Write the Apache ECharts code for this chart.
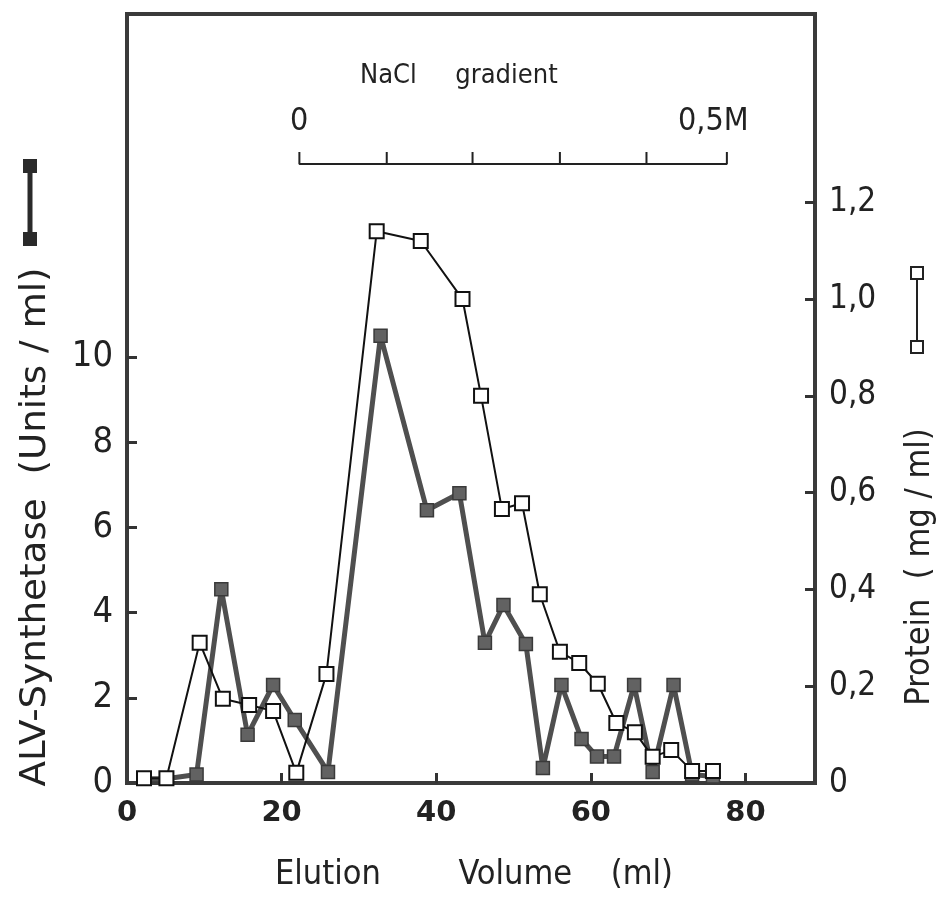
<!DOCTYPE html>
<html><head><meta charset="utf-8">
<script src="https://cdn.jsdelivr.net/npm/echarts@6/dist/echarts.min.js"></script>
<style>html,body{margin:0;padding:0;background:#fff}#c{width:944px;height:899px}</style>
</head><body><div id="c"></div>
<script>
// Elution volume (ml) and values
const proteinX = [2.2, 5.1, 9.4, 12.4, 15.8, 18.9, 21.9, 25.8, 32.3, 38.0, 43.4, 45.8, 48.5, 51.1, 53.4, 56.0, 58.5, 60.9, 63.3, 65.7, 68.0, 70.4, 73.1, 75.8];
const proteinY = [0.01, 0.01, 0.29, 0.174, 0.161, 0.149, 0.021, 0.225, 1.14, 1.12, 1.0, 0.80, 0.566, 0.578, 0.39, 0.271, 0.248, 0.205, 0.124, 0.105, 0.054, 0.068, 0.025, 0.025];
const alvX = [2.2, 5.1, 9.0, 12.2, 15.6, 18.9, 21.7, 26.0, 32.8, 38.8, 43.0, 46.3, 48.7, 51.6, 53.8, 56.2, 58.8, 60.8, 63.0, 65.6, 68.0, 70.7, 73.1, 75.8];
const alvY = [0.1, 0.1, 0.2, 4.55, 1.13, 2.3, 1.48, 0.26, 10.5, 6.4, 6.8, 3.29, 4.18, 3.26, 0.35, 2.3, 1.03, 0.62, 0.62, 2.3, 0.26, 2.3, 0.2, 0.15];
// NaCl gradient bar (x positions of ticks, in ml) and its level on left axis
const gradientTicks = [22.3, 33.6, 44.7, 56.0, 67.2, 77.6];
const gradientLevel = 14.53, gradientTickTop = 14.81;
const xTicks = [0, 20, 40, 60, 80];
const leftTicks = [0, 2, 4, 6, 8, 10];
const rightTicks = [0, 0.2, 0.4, 0.6, 0.8, 1.0, 1.2];

const FONT = "'DejaVu Sans Condensed','Liberation Sans Narrow','DejaVu Sans',sans-serif";
const gradPath = [];
gradientTicks.forEach((x) => {
  gradPath.push([x, gradientLevel], [x, gradientTickTop], [x, gradientLevel]);
});

const chart = echarts.init(document.getElementById('c'));
chart.setOption({
  animation: false,
  grid: {left: 127, right: 129, top: 14, bottom: 116, show: true, borderWidth: 4, borderColor: '#3a3a3a', backgroundColor: 'transparent'},
  xAxis: {
    type: 'value', min: 0, max: 89,
    axisLine: {show: false}, splitLine: {show: false},
    axisTick: {show: true, inside: true, length: 10, lineStyle: {color: '#333', width: 3}, customValues: xTicks.slice(1)},
    axisLabel: {customValues: xTicks, margin: 16, fontFamily: "'DejaVu Sans',sans-serif", fontWeight: 'bold', fontSize: 29, color: '#222'}
  },
  yAxis: [{
    type: 'value', min: 0, max: 18.05, position: 'left',
    axisLine: {show: false}, splitLine: {show: false},
    axisTick: {show: true, inside: true, length: 10, lineStyle: {color: '#333', width: 3}, customValues: leftTicks.slice(1)},
    axisLabel: {customValues: leftTicks, margin: 14, fontFamily: FONT, fontSize: 36, color: '#222'}
  }, {
    type: 'value', min: 0, max: 1.589, position: 'right',
    axisLine: {show: false}, splitLine: {show: false},
    axisTick: {show: true, inside: true, length: 10, lineStyle: {color: '#333', width: 3}, customValues: rightTicks.slice(1)},
    axisLabel: {customValues: rightTicks, margin: 14, fontFamily: FONT, fontSize: 33, color: '#222',
      formatter: v => v === 0 ? '0' : v.toFixed(1).replace('.', ',')}
  }],
  series: [{
    type: 'line', yAxisIndex: 0, data: alvX.map((x, i) => [x, alvY[i]]),
    symbol: 'rect', symbolSize: 13, showAllSymbol: true,
    lineStyle: {color: '#4f4f4f', width: 5},
    itemStyle: {color: '#626262', borderColor: '#3a3a3a', borderWidth: 1.5}, z: 2
  }, {
    type: 'line', yAxisIndex: 1, data: proteinX.map((x, i) => [x, proteinY[i]]),
    symbol: 'rect', symbolSize: 14, showAllSymbol: true,
    lineStyle: {color: '#111', width: 2},
    itemStyle: {color: '#fff', borderColor: '#111', borderWidth: 2}, z: 3
  }, {
    type: 'line', yAxisIndex: 0, data: gradPath, symbol: 'none',
    lineStyle: {color: '#222', width: 2}, z: 1
  }],
  graphic: [
    {type: 'text', left: 360, top: 62, style: {text: 'NaCl     gradient', font: "27px " + FONT, fill: '#222'}},
    {type: 'text', left: 290, top: 106, style: {text: '0', font: "32px " + FONT, fill: '#222'}},
    {type: 'text', left: 678, top: 106, style: {text: '0,5M', font: "32px " + FONT, fill: '#222'}},
    // axis titles
    {type: 'text', x: 36, y: 527, rotation: Math.PI / 2, scaleX: 1.15,
      style: {text: 'ALV-Synthetase  (Units / ml)', font: "36px " + FONT, fill: '#222', align: 'center', verticalAlign: 'middle'}},
    {type: 'text', x: 920, y: 567, rotation: Math.PI / 2,
      style: {text: 'Protein  ( mg / ml)', font: "34px " + FONT, fill: '#222', align: 'center', verticalAlign: 'middle'}},
    {type: 'text', left: 275, top: 858,
      style: {text: 'Elution        Volume    (ml)', font: "34px " + FONT, fill: '#222'}},
    // left legend key (filled squares)
    {type: 'line', shape: {x1: 30, y1: 166, x2: 30, y2: 239}, style: {stroke: '#2a2a2a', lineWidth: 5}},
    {type: 'rect', shape: {x: 23, y: 159, width: 14, height: 14}, style: {fill: '#2a2a2a'}},
    {type: 'rect', shape: {x: 23, y: 232, width: 14, height: 14}, style: {fill: '#2a2a2a'}},
    // right legend key (open squares)
    {type: 'line', shape: {x1: 917, y1: 279, x2: 917, y2: 341}, style: {stroke: '#222', lineWidth: 2}},
    {type: 'rect', shape: {x: 911, y: 267, width: 12, height: 12}, style: {fill: '#fff', stroke: '#222', lineWidth: 2}},
    {type: 'rect', shape: {x: 911, y: 341, width: 12, height: 12}, style: {fill: '#fff', stroke: '#222', lineWidth: 2}}
  ]
});
</script></body></html>
